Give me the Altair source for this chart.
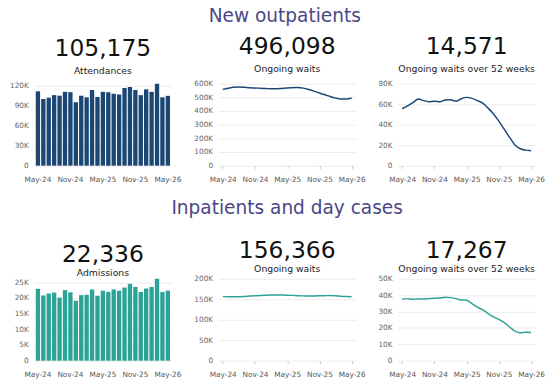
import altair as alt
import pandas as pd

months = ["May-24", "Jun-24", "Jul-24", "Aug-24", "Sep-24", "Oct-24", "Nov-24", "Dec-24",
          "Jan-25", "Feb-25", "Mar-25", "Apr-25", "May-25", "Jun-25", "Jul-25", "Aug-25",
          "Sep-25", "Oct-25", "Nov-25", "Dec-25", "Jan-26", "Feb-26", "Mar-26", "Apr-26", "May-26"]
tick_months = ["May-24", "Nov-24", "May-25", "Nov-25", "May-26"]

op_attendances = [112000, 100500, 102400, 106300, 105400, 111200, 110700, 95600, 105400, 103000,
                  114000, 103400, 111200, 110700, 108300, 107300, 117000, 118500, 114000, 106300,
                  115000, 111200, 123400, 103000, 105175]
op_waits = [559000, 567000, 574000, 576000, 574000, 571000, 569000, 567000, 565000, 563000,
            563000, 566000, 569000, 571000, 573000, 568000, 558000, 546000, 532000, 519000,
            507000, 495000, 488000, 488000, 496098]
op_waits52 = [55600, 58400, 61600, 65100, 63500, 62500, 62900, 62500, 64100, 64400,
              62900, 65400, 66700, 65700, 63500, 61000, 56200, 50500, 43500, 35600,
              27600, 20300, 16500, 15200, 14571]
ip_admissions = [22900, 20800, 21400, 21700, 20100, 22500, 21800, 19100, 20900, 21000,
                 22700, 20700, 22300, 22000, 22700, 22300, 23300, 24500, 23500, 21900,
                 23000, 23500, 26100, 21900, 22336]
ip_waits = [156500, 156200, 156000, 156400, 157000, 157800, 158500, 159200, 159800, 160200,
            160400, 160300, 160000, 159500, 158800, 158300, 158000, 158200, 158500, 158800,
            159000, 158600, 157500, 156800, 156366]
ip_waits52 = [37500, 37900, 37500, 37700, 37700, 37900, 38100, 38300, 38700, 38500,
              37900, 37100, 36900, 34900, 32700, 31000, 28800, 26800, 25200, 23200,
              20600, 18100, 17100, 17400, 17267]

NAVY = "#1c4775"
TEAL = "#2ca396"
TITLE_COLOR = "#4b4787"
FONT = "DejaVu Sans"
W = 141

label_expr = "datum.value == 0 ? '0' : format(datum.value / 1000, 'd') + 'K'"


def x_enc(kind):
    if kind == "bar":
        scale = alt.Scale(type="band", paddingInner=0.2, paddingOuter=0.3)
    else:
        scale = alt.Scale(type="point", padding=0.8)
    return alt.X("month:O", sort=months, scale=scale, title=None,
                 axis=alt.Axis(values=tick_months, labelAngle=0, labelFontSize=7.5,
                               labelColor="#555555", ticks=kind != "bar", tickSize=3,
                               tickColor="#cccccc", domain=False,
                               labelPadding=10 if kind == "bar" else 7,
                               grid=False))


def panel(values, kind, color, number, subtitle, yvalues, ydomain, sub_pad, h, off):
    df = pd.DataFrame({"month": months, "value": values})
    yscale = alt.Scale(domain=ydomain, nice=False, zero=True)
    y = alt.Y("value:Q", scale=yscale, title=None,
              axis=alt.Axis(values=yvalues, labelExpr=label_expr, labelFontSize=7.5,
                            labelColor="#666666", ticks=False, domain=False,
                            gridColor="#ebebeb", labelPadding=6))
    base = alt.Chart(df)
    if kind == "bar":
        mark = base.mark_bar(color=color)
    else:
        mark = base.mark_line(color=color, strokeWidth=1.5, interpolate="monotone")
    return mark.encode(x=x_enc(kind), y=y).properties(
        width=W, height=h,
        title=alt.TitleParams(text=number, subtitle=subtitle, fontSize=24,
                              fontWeight="normal", font=FONT, color="#111111",
                              subtitleFontSize=9.5, subtitleFont=FONT,
                              subtitleColor="#222222", subtitlePadding=sub_pad,
                              anchor="middle", offset=off))


row1 = alt.hconcat(
    panel(op_attendances, "bar", NAVY, "105,175", "Attendances",
          [0, 30000, 60000, 90000, 120000], [0, max(op_attendances)], 5, 84, 7),
    panel(op_waits, "line", NAVY, "496,098", "Ongoing waits",
          [0, 100000, 200000, 300000, 400000, 500000, 600000], [0, 600000], 5, 84, 7),
    panel(op_waits52, "line", NAVY, "14,571", "Ongoing waits over 52 weeks",
          [0, 20000, 40000, 60000, 80000], [0, 80000], 5, 84, 7),
    spacing=12,
    title=alt.TitleParams("New outpatients", fontSize=19, font=FONT, fontWeight="normal",
                          color=TITLE_COLOR, anchor="middle", offset=10, dx=8),
)
row2 = alt.hconcat(
    panel(ip_admissions, "bar", TEAL, "22,336", "Admissions",
          [0, 5000, 10000, 15000, 20000, 25000], [0, max(ip_admissions)], 1.5, 84, 1),
    panel(ip_waits, "line", TEAL, "156,366", "Ongoing waits",
          [0, 50000, 100000, 150000, 200000], [0, 200000], 1.5, 84, 1),
    panel(ip_waits52, "line", TEAL, "17,267", "Ongoing waits over 52 weeks",
          [0, 10000, 20000, 30000, 40000, 50000], [0, 50000], 1.5, 84, 1),
    spacing=12,
    title=alt.TitleParams("Inpatients and day cases", fontSize=19, font=FONT,
                          fontWeight="normal", color=TITLE_COLOR, anchor="middle",
                          offset=22, dx=8),
)

chart = alt.vconcat(row1, row2, spacing=17).configure(
    font=FONT, padding={"left": 9, "top": 2, "right": 5, "bottom": 1}
).configure_view(stroke=None).configure_concat(spacing=12)

chart.save("out.html", embed_options={"renderer": "svg", "actions": False})
